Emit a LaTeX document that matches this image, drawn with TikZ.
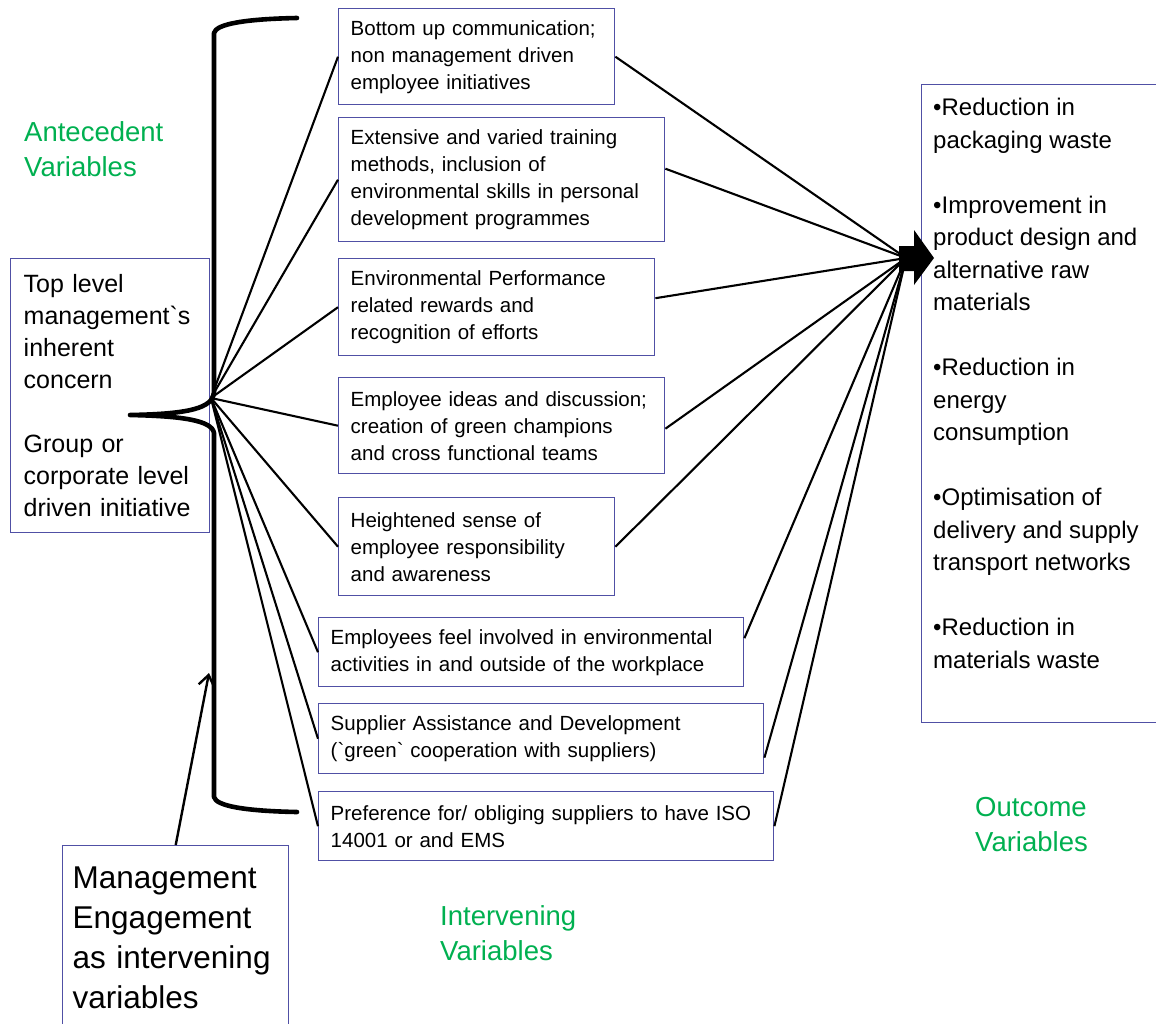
\documentclass[tikz,border=0pt]{standalone}
\usepackage{fontspec}
\newfontfamily\lib{Liberation Sans}
\usetikzlibrary{arrows.meta,calc}
\definecolor{boxblue}{RGB}{80,80,165}
\definecolor{vargreen}{RGB}{0,176,80}
\begin{document}
\begin{tikzpicture}[x=1pt,y=-1pt,
  ivbox/.style={draw=boxblue, line width=1.4pt, inner xsep=12pt, inner ysep=0pt,
    align=left, anchor=north west, font=\lib\fontsize{20.5}{27}\selectfont},
  sidebox/.style={draw=boxblue, line width=1.4pt, inner ysep=0pt,
    align=left, anchor=north west},
  varlabel/.style={text=vargreen, align=left, anchor=north west, inner sep=0pt,
    font=\lib\fontsize{27.5}{35}\selectfont},
  link/.style={line width=2.1pt, black},
  brace/.style={line width=4.6pt, black, line cap=round, line join=round},
  mgarrow/.style={line width=2.4pt, -{Straight Barb[length=11pt,width=16pt,line width=2.4pt]}}
]
\useasboundingbox (0,0) rectangle (1156,1023);

% intervening variables
\node[ivbox, minimum width=276pt, minimum height=96pt, text width=252pt] (b1) at (338,8)
  {Bottom up communication;\\non management driven\\employee initiatives};
\node[ivbox, minimum width=326pt, minimum height=124pt, text width=302pt] (b2) at (338,117)
  {Extensive and varied training\\methods, inclusion of\\environmental skills in personal\\development programmes};
\node[ivbox, minimum width=316pt, minimum height=97pt, text width=292pt] (b3) at (338,258)
  {Environmental Performance\\related rewards and\\recognition of efforts};
\node[ivbox, minimum width=326pt, minimum height=96pt, text width=302pt] (b4) at (338,377)
  {Employee ideas and discussion;\\creation of green champions\\and cross functional teams};
\node[ivbox, minimum width=276pt, minimum height=98pt, text width=252pt] (b5) at (338,497)
  {Heightened sense of\\employee responsibility\\and awareness};
\node[ivbox, minimum width=425pt, minimum height=69pt, text width=401pt] (b6) at (318,617)
  {Employees feel involved in environmental\\activities in and outside of the workplace};
\node[ivbox, minimum width=445pt, minimum height=70pt, text width=421pt] (b7) at (318,703)
  {Supplier Assistance and Development\\(`green` cooperation with suppliers)};
\node[ivbox, minimum width=455pt, minimum height=69pt, text width=431pt] (b8) at (318,791)
  {Preference for/ obliging suppliers to have ISO\\14001 or and EMS};

% antecedent variables
\node[sidebox, inner xsep=13pt, minimum width=199pt, minimum height=274pt, text width=173pt,
  font=\lib\fontsize{25}{32}\selectfont] (top) at (10,258)
  {Top level\\management`s\\inherent\\concern\\[32pt]Group or\\corporate level\\driven initiative};

% management engagement
\node[sidebox, inner xsep=10pt, minimum width=226pt, minimum height=185pt, text width=206pt,
  font=\lib\fontsize{31.5}{40}\selectfont] (mg) at (62,845)
  {Management\\Engagement\\as intervening\\variables};

% outcome variables
\node[sidebox, minimum width=260pt, minimum height=638pt, inner sep=0pt] (out) at (921,84) {};
\node[anchor=north west, inner sep=0pt, align=left, font=\lib\fontsize{24}{32.5}\selectfont] (outtext) at (933,98)
  {•Reduction in\\packaging waste\\[32.5pt]•Improvement in\\product design and\\alternative raw\\materials\\[32.5pt]•Reduction in\\energy\\consumption\\[32.5pt]•Optimisation of\\delivery and supply\\transport networks\\[32.5pt]•Reduction in\\materials waste};

% group labels
\node[varlabel] (antlabel) at (24,121) {Antecedent\\Variables};
\node[varlabel] (intlabel) at (440,905) {Intervening\\Variables};
\node[varlabel] (outlabel) at (975,797) {Outcome\\Variables};

% brace gathering the antecedents
\draw[brace] (297,18) .. controls (245,19) and (216,24) .. (214,33) -- (214,392)
  .. controls (213,408) and (190,414) .. (130,415)
  .. controls (180,416) and (212,420) .. (214,433) -- (214,797)
  .. controls (216,806) and (245,811) .. (297,812);

% fan from the brace to each intervening variable
\coordinate (fan) at (211,398);
\foreach \b in {b1,b2,b3,b4,b5,b6,b7,b8}
  \draw[link] (fan) -- (\b.west);

% convergence on the outcomes
\coordinate (hub) at (906,258);
\draw[link] (b1.east) -- (hub);
\draw[link] ($(b2.east)+(0,-11)$) -- (hub);
\draw[link] ($(b3.east)+(0,-9)$) -- (hub);
\draw[link] ($(b4.east)+(0,3)$) -- (hub);
\draw[link] (b5.east) -- (hub);
\draw[link] ($(b6.east)+(0,-14)$) -- (hub);
\draw[link] ($(b7.east)+(0,19)$) -- (hub);
\draw[link] (b8.east) -- (hub);
\fill[black] (899,246) -- (914,246) -- (914,230) -- (934,258) -- (914,285) -- (914,271) -- (899,271) -- cycle;

% management engagement feeding the brace
\coordinate (mgtip) at (209,673);
\draw[mgarrow] (mg.north) -- (mgtip);
\end{tikzpicture}
\end{document}
